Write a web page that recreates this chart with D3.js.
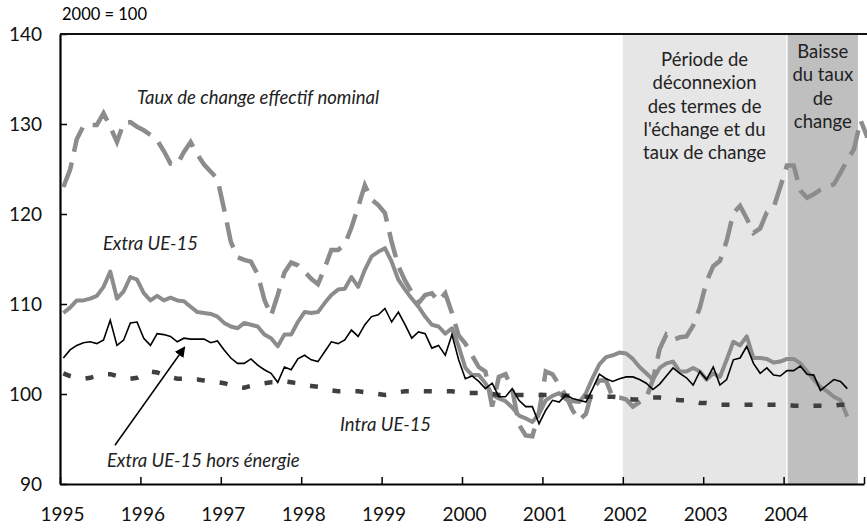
<!DOCTYPE html>
<html>
<meta charset="utf-8">
<script src="https://d3js.org/d3.v7.min.js"></script>
<style>
  body { margin: 0; background: #fff; }
  text { font-family: Lato, "Open Sans", sans-serif; }
</style>
<body>
<div id="my_dataviz"></div>
<script>

// monthly data, Jan 1995 (month 0) onwards
var years = [1995, 1996, 1997, 1998, 1999, 2000, 2001, 2002, 2003, 2004];

var extraUE = [109.0, 109.6, 110.4, 110.4, 110.6, 110.9, 111.9, 113.6, 110.6, 111.4, 113.0, 112.7,
  111.2, 110.4, 110.9, 110.4, 110.7, 110.4, 110.3, 109.7, 109.1, 109.0, 108.9, 108.6,
  107.9, 107.5, 107.3, 107.9, 107.7, 107.5, 106.6, 106.2, 105.3, 106.6, 106.6, 108.0,
  109.1, 109.0, 109.1, 110.1, 111.0, 111.6, 111.7, 113.0, 111.9, 113.8, 115.3, 115.8,
  116.2, 114.7, 112.7, 111.6, 110.6, 109.7, 108.6, 107.7, 107.5, 106.7, 107.3, 105.3,
  102.9, 102.1, 102.1, 101.2, 99.9, 99.5, 99.2, 98.5, 97.6, 97.3, 96.9, 97.8,
  99.3, 99.8, 100.1, 99.4, 99.2, 99.1, 100.1, 101.8, 103.3, 104.1, 104.3, 104.6,
  104.5, 103.9, 103.0, 102.3, 101.6, 102.9, 103.4, 103.6, 102.5, 102.5, 102.9, 102.5,
  101.6, 102.3, 101.9, 103.8, 105.8, 105.4, 106.4, 104.0, 104.0, 103.9, 103.5, 103.6,
  103.9, 103.9, 103.4, 102.5, 101.6, 100.8, 100.3, 99.7, 99.3, 97.5];

var horsEnergie = [104.0, 104.9, 105.4, 105.7, 105.8, 105.6, 106.0, 108.2, 105.4, 106.0, 107.9, 108.0,
  106.2, 105.4, 106.7, 106.6, 106.4, 105.8, 106.2, 106.1, 106.1, 106.1, 105.7, 105.9,
  104.9, 104.0, 103.4, 103.4, 103.9, 103.2, 102.7, 102.3, 101.3, 103.0, 102.7, 103.9,
  104.3, 103.8, 103.6, 104.7, 105.8, 105.6, 106.0, 107.1, 106.4, 107.7, 108.6, 108.8,
  109.5, 108.0, 109.1, 107.7, 106.2, 106.9, 106.7, 105.1, 105.4, 104.3, 106.6, 103.8,
  101.7, 102.0, 101.4, 100.6, 101.2, 99.7, 99.7, 100.6, 99.3, 98.6, 98.6, 96.7,
  98.2, 99.3, 99.1, 99.9, 99.5, 99.3, 99.1, 100.6, 102.2, 101.7, 101.4, 101.7,
  101.9, 101.9, 101.6, 101.2, 100.5, 101.1, 102.0, 102.9, 102.3, 101.8, 101.0, 102.5,
  101.6, 103.0, 101.0, 101.6, 103.8, 104.0, 105.3, 103.4, 102.3, 102.9, 102.1, 102.0,
  102.6, 102.6, 103.1, 102.2, 102.1, 100.4, 101.0, 101.6, 101.4, 100.6];

var intraUE = [102.3, 102.0, 101.8, 101.7, 101.8, 102.0, 102.2, 102.2, 102.0, 101.8, 101.7, 101.8,
  102.2, 102.5, 102.4, 102.1, 101.9, 101.7, 101.7, 101.6, 101.6, 101.5, 101.4, 101.3,
  101.2, 101.0, 100.8, 100.7, 100.9, 101.1, 101.2, 101.3, 101.3, 101.4, 101.3, 101.2,
  101.0, 100.9, 100.8, 100.6, 100.4, 100.3, 100.3, 100.3, 100.3, 100.2, 100.1, 100.0,
  99.9, 100.0, 100.2, 100.3, 100.3, 100.3, 100.3, 100.3, 100.3, 100.3, 100.3, 100.2,
  100.1, 100.1, 100.1, 100.1, 100.0, 99.9, 99.9, 99.9, 99.9, 99.9, 99.9, 99.9,
  99.9, 99.9, 99.9, 99.8, 99.8, 99.7, 99.7, 99.7, 99.7, 99.7, 99.7, 99.6,
  99.5, 99.4, 99.4, 99.5, 99.6, 99.6, 99.5, 99.4, 99.3, 99.3, 99.2, 99.0,
  99.0, 98.9, 98.8, 98.8, 98.8, 98.8, 98.8, 98.8, 98.8, 98.8, 98.8, 98.8,
  98.8, 98.7, 98.7, 98.7, 98.7, 98.7, 98.7, 98.7, 98.8, 98.8];

var tauxChange = [123.0, 124.9, 128.3, 129.8, 129.9, 129.9, 131.2, 129.7, 128.0, 130.1, 130.2, 129.7,
  129.3, 128.8, 128.2, 127.0, 125.6, 125.5, 126.9, 128.0, 126.6, 125.5, 124.7, 123.9,
  120.5, 116.9, 115.2, 114.9, 114.7, 113.3, 110.5, 108.7, 111.0, 113.5, 114.6, 114.3,
  113.6, 112.8, 112.2, 114.0, 116.0, 116.0, 116.6, 118.5, 120.8, 123.2, 121.6, 121.0,
  120.1, 116.9, 114.2, 112.6, 111.3, 110.1, 111.0, 111.2, 110.3, 111.2, 109.0, 106.5,
  105.6, 104.3, 103.0, 102.5, 98.6, 101.9, 102.2, 100.5, 96.6, 95.4, 95.3, 98.0,
  102.5, 102.2, 101.0, 99.8, 98.2, 97.1, 97.8, 100.5, 101.5, 101.5, 99.6, 99.6,
  99.4, 98.6, 99.1, 99.5, 101.6, 105.0, 106.6, 106.0, 106.3, 106.4, 107.6, 109.6,
  112.5, 114.2, 114.8, 117.0, 120.1, 120.9, 119.5, 117.9, 118.4, 120.2, 120.7, 123.0,
  125.4, 125.4, 122.6, 121.8, 122.2, 122.7, 123.0, 123.3, 124.6, 126.0, 127.2, 130.4,
  128.5];

// shaded periods, in months from Jan 1995
var periodStart = [84, 108.6];
var periodEnd = [108.4, 119.1];
var periodFill = ["#e6e6e6", "#bfbfbf"];
var periodText = [
  ["Période de", "déconnexion", "des termes de", "l'échange et du", "taux de change"],
  ["Baisse", "du taux", "de", "change"]
];

var margin = {top: 34, right: 3, bottom: 46, left: 60},
    width = 867 - margin.left - margin.right,
    height = 530 - margin.top - margin.bottom;

var svg = d3.select("#my_dataviz")
  .append("svg")
    .attr("width", width + margin.left + margin.right)
    .attr("height", height + margin.top + margin.bottom)
  .append("g")
    .attr("transform", "translate(" + margin.left + "," + margin.top + ")");

var x = d3.scaleLinear().domain([0, 120]).range([0, width]);
var y = d3.scaleLinear().domain([90, 140]).range([height, 0]);

// shaded periods
svg.selectAll("rect.period")
  .data(periodStart)
  .enter()
  .append("rect")
    .attr("class", "period")
    .attr("x", function(d) { return x(d); })
    .attr("y", 0)
    .attr("width", function(d, i) { return x(periodEnd[i]) - x(d); })
    .attr("height", height)
    .attr("fill", function(d, i) { return periodFill[i]; });

// text in the shaded periods
periodText.forEach(function(lines, k) {
  var cx = (x(periodStart[k]) + x(periodEnd[k])) / 2;
  var top = k == 0 ? 32 : 24;
  svg.append("text")
    .attr("text-anchor", "middle")
    .style("font-size", "18.5px")
    .attr("fill", "#222")
    .selectAll("tspan")
    .data(lines)
    .enter()
    .append("tspan")
      .attr("x", cx)
      .attr("y", function(d, i) { return top + i * 23.3; })
      .text(function(d) { return d; });
});

// axes
var yAxis = d3.axisLeft(y).tickValues([90, 100, 110, 120, 130, 140])
  .tickSize(-7).tickSizeOuter(0).tickPadding(18);
var gy = svg.append("g").call(yAxis);
gy.selectAll("text").style("font-size", "19px").attr("fill", "#111");

var xAxis = d3.axisBottom(x).tickValues(d3.range(0, 121, 12))
  .tickSize(-7).tickSizeOuter(0).tickPadding(24)
  .tickFormat(function(d) { return d < 120 ? years[d / 12] : ""; });
var gx = svg.append("g")
  .attr("transform", "translate(0," + height + ")")
  .call(xAxis);
gx.selectAll("text").style("font-size", "19px").attr("fill", "#111").attr("dx", 2);

svg.selectAll(".domain").attr("stroke-width", 2.2);
svg.selectAll(".tick line").attr("stroke-width", 1.5);

// top frame
svg.append("line")
  .attr("x1", 0).attr("x2", width + 3)
  .attr("y1", 0).attr("y2", 0)
  .attr("stroke", "#111")
  .attr("stroke-width", 2.2);

svg.append("text")
  .attr("x", 2).attr("y", -14)
  .style("font-size", "16.5px")
  .text("2000 = 100");

// lines
var line = d3.line()
  .x(function(d, i) { return x(i + 0.5); })
  .y(function(d) { return y(d); });

svg.append("path")
  .datum(extraUE)
  .attr("fill", "none")
  .attr("stroke", "#8c8c8c")
  .attr("stroke-width", 4)
  .attr("stroke-linejoin", "round")
  .attr("d", line);

svg.append("path")
  .datum(tauxChange)
  .attr("fill", "none")
  .attr("stroke", "#8c8c8c")
  .attr("stroke-width", 4.5)
  .attr("stroke-dasharray", "26,11")
  .attr("d", line);

svg.append("path")
  .datum(intraUE)
  .attr("fill", "none")
  .attr("stroke", "#404040")
  .attr("stroke-width", 4.5)
  .attr("stroke-dasharray", "8,15")
  .attr("d", line);

svg.append("path")
  .datum(horsEnergie)
  .attr("fill", "none")
  .attr("stroke", "#000")
  .attr("stroke-width", 1.6)
  .attr("d", line);

// labels
function label(txt, m, v) {
  svg.append("text")
    .attr("x", x(m)).attr("y", y(v))
    .style("font-size", "18.5px")
    .style("font-style", "italic")
    .attr("fill", "#222")
    .text(txt);
}
label("Taux de change effectif nominal", 11.5, 132.2);
label("Extra UE-15", 6.4, 116.0);
label("Extra UE-15 hors énergie", 7.0, 91.9);
label("Intra UE-15", 41.8, 95.9);

// arrow
svg.append("defs").append("marker")
  .attr("id", "arrow")
  .attr("viewBox", "0 0 10 10")
  .attr("refX", 9).attr("refY", 5)
  .attr("markerWidth", 7).attr("markerHeight", 7)
  .attr("orient", "auto")
  .append("path")
    .attr("d", "M0,0L10,5L0,10z")
    .attr("fill", "#000");

svg.append("line")
  .attr("x1", x(8.2)).attr("y1", y(94.3))
  .attr("x2", x(18.6)).attr("y2", y(105.2))
  .attr("stroke", "#000")
  .attr("stroke-width", 1.5)
  .attr("marker-end", "url(#arrow)");

</script>
</body>
</html>
